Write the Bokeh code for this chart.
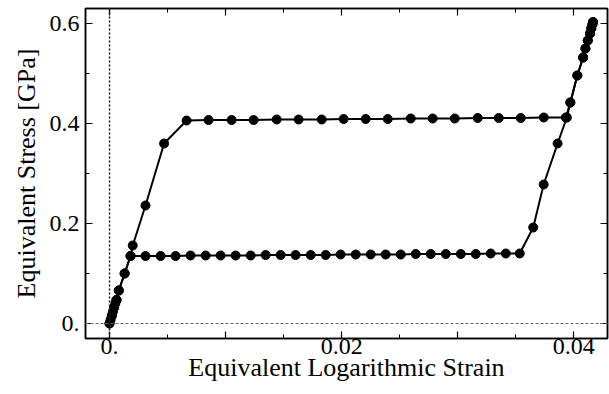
from bokeh.plotting import figure
from bokeh.models import FixedTicker, Span, LinearAxis, Range1d
from bokeh.embed import file_html
from bokeh.resources import INLINE

# Lower branch (yield ~0.135 GPa)
lower_x = [0.0, 0.0001, 0.0002, 0.0003, 0.0004, 0.0005, 0.0006, 0.0008, 0.0013,
           0.00181, 0.0031, 0.0044, 0.00569, 0.00698, 0.00828, 0.00957, 0.01086,
           0.01216, 0.01345, 0.01474, 0.01603, 0.01733, 0.01862, 0.01991, 0.02121,
           0.0225, 0.02379, 0.02509, 0.02638, 0.02767, 0.02897, 0.03026, 0.03155,
           0.03284, 0.03414, 0.03534,
           0.0365, 0.0374, 0.0386, 0.0394, 0.0397, 0.0403, 0.0408, 0.0410, 0.0412,
           0.0414, 0.0415, 0.0416, 0.04165]
lower_y = [0.0, 0.008, 0.016, 0.024, 0.032, 0.040, 0.047, 0.066, 0.100,
           0.135, 0.135, 0.135, 0.135, 0.136, 0.136, 0.136, 0.136,
           0.136, 0.137, 0.137, 0.137, 0.137, 0.137, 0.138, 0.138,
           0.138, 0.138, 0.138, 0.139, 0.139, 0.139, 0.139, 0.139,
           0.140, 0.140, 0.140,
           0.192, 0.278, 0.360, 0.412, 0.442, 0.496, 0.532, 0.550, 0.566,
           0.580, 0.590, 0.598, 0.603]

# Upper branch (yield ~0.405 GPa)
upper_x = [0.0, 0.0002, 0.0004, 0.0006, 0.0008, 0.0013, 0.00181, 0.0020, 0.0031,
           0.0047, 0.00664, 0.00853, 0.01052, 0.01241, 0.0144, 0.01629, 0.01828,
           0.02017, 0.02207, 0.02397, 0.02595, 0.02784, 0.02974, 0.03172, 0.03353,
           0.03543, 0.03741, 0.03931,
           0.0397, 0.0403, 0.0408, 0.0410, 0.0412, 0.0414, 0.0415, 0.0416, 0.04165]
upper_y = [0.0, 0.016, 0.032, 0.047, 0.066, 0.100, 0.135, 0.156, 0.236,
           0.360, 0.406, 0.407, 0.407, 0.407, 0.408, 0.408, 0.408,
           0.409, 0.409, 0.409, 0.410, 0.410, 0.410, 0.411, 0.411,
           0.411, 0.412, 0.412,
           0.442, 0.496, 0.532, 0.550, 0.566, 0.580, 0.590, 0.598, 0.603]

x_ticks = [0.0, 0.01, 0.02, 0.03, 0.04]
x_labels = {0.0: "0.", 0.01: "", 0.02: "0.02", 0.03: "", 0.04: "0.04"}
x_minor = [0.005, 0.015, 0.025, 0.035]
y_ticks = [0.0, 0.2, 0.4, 0.6]
y_labels = {0.0: "0.", 0.2: "0.2", 0.4: "0.4", 0.6: "0.6"}
y_minor = [0.1, 0.3, 0.5]

FONT = "Liberation Serif"

p = figure(width=609, height=394, output_backend="svg", toolbar_location=None,
           x_range=Range1d(-0.00207, 0.0429), y_range=Range1d(-0.03, 0.63),
           min_border_left=85, min_border_right=2, min_border_top=8,
           min_border_bottom=56, x_axis_label="Equivalent Logarithmic Strain",
           y_axis_label="Equivalent Stress [GPa]")
p.outline_line_color = "black"
p.outline_line_width = 1.5
p.xgrid.visible = False
p.ygrid.visible = False
p.background_fill_color = "white"
p.border_fill_color = "white"

# zero reference lines
p.add_layout(Span(location=0, dimension="height", line_color="#222222",
                  line_dash="2 2", line_width=1.6))
p.add_layout(Span(location=0, dimension="width", line_color="#666666",
                  line_dash="3 2", line_width=1.1))

for xs, ys in ((lower_x, lower_y), (upper_x, upper_y)):
    p.line(xs, ys, line_color="black", line_width=2)
    p.scatter(xs, ys, size=9, fill_color="black", line_color="black")

def style(ax, ticks, minor, labels, show_labels):
    ax.ticker = FixedTicker(ticks=ticks, minor_ticks=minor)
    ax.major_tick_in = 7
    ax.major_tick_out = 0
    ax.minor_tick_in = 4
    ax.minor_tick_out = 0
    ax.axis_line_color = "black"
    ax.axis_line_width = 1.5
    ax.major_tick_line_width = 1.2
    ax.minor_tick_line_width = 1
    if show_labels:
        ax.major_label_overrides = labels
        ax.major_label_text_font = FONT
        ax.major_label_text_font_size = "24px"
        ax.major_label_text_color = "black"
        ax.axis_label_text_font = FONT
        ax.axis_label_text_font_size = "26px"
        ax.axis_label_text_font_style = "normal"
        ax.axis_label_text_color = "black"
    else:
        ax.major_label_overrides = {t: "" for t in ticks}

style(p.xaxis[0], x_ticks, x_minor, x_labels, True)
style(p.yaxis[0], y_ticks, y_minor, y_labels, True)
p.xaxis[0].major_label_standoff = 0
p.xaxis[0].axis_label_standoff = -4
p.yaxis[0].major_label_standoff = 6
p.yaxis[0].axis_label_standoff = 6

top = LinearAxis()
style(top, x_ticks, x_minor, x_labels, False)
p.add_layout(top, "above")
right = LinearAxis()
style(right, y_ticks, y_minor, y_labels, False)
p.add_layout(right, "right")

open("out.html", "w").write(file_html(p, INLINE))
